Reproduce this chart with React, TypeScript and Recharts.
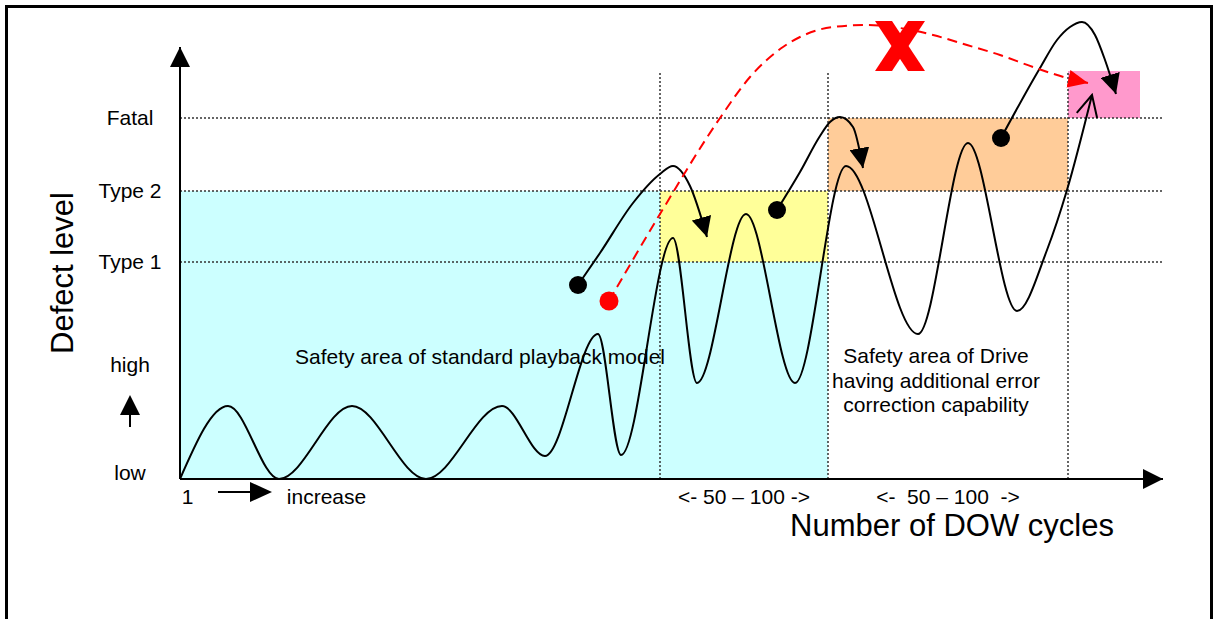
import React from 'react';
import {
  ComposedChart,
  Line,
  Scatter,
  XAxis,
  YAxis,
  ReferenceArea,
  ReferenceLine,
} from 'recharts';

const FONT = '"Liberation Sans", Arial, Helvetica, sans-serif';

// chart units: x = cycles (0 at the origin), y = defect level (0 = low)
const xMax = 983;
const yMax = 464;
const axisTop = 432;

// defect thresholds: Type 1, Type 2, Fatal
const levelValues = [217, 288, 361];
const zoneTop = 408;

// cycle band boundaries (standard model end, drive end, fatal band, fatal box end)
const bandEdges = [480, 648, 888, 960];

// wavy defect trace, peaks and troughs
const traceX = [0, 48, 99, 172, 246, 322, 365, 418, 441, 493, 517, 566, 615, 666, 738, 788, 837, 867, 887, 912];
const traceY = [0, 73, 0, 73, 0, 73, 23, 145, 24, 241, 96, 265, 96, 313, 145, 336, 168, 229, 289, 384];

// black jump arrows
const jump1X = [398, 420, 453, 480, 493, 510, 527];
const jump1Y = [194, 226, 276, 305, 313, 293, 242];
const jump2X = [597, 620, 640, 650, 660, 673, 683];
const jump2Y = [269, 307, 343, 357, 362, 352, 311];
const jump3X = [821, 860, 877, 890, 902, 915, 925, 936];
const jump3Y = [341, 411, 439, 452, 457, 444, 419, 385];

// red dashed jump (not allowed)
const redX = [429, 480, 540, 570, 603, 620, 653, 687, 720, 753, 787, 820, 853, 887, 908];
const redY = [178, 265, 361, 402, 432, 442, 452, 454, 451, 444, 434, 424, 412, 401, 396];

const blackDotX = [398, 597, 821];
const blackDotY = [194, 269, 341];
const redDotX = [429];
const redDotY = [178];
const crossX = [720];
const crossY = [433];

const yTickValues = [6, 68, 114, 217, 288, 361];
const yTickLabels = ['low', '↑', 'high', 'Type 1', 'Type 2', 'Fatal'];
const xTickValues = [7.5, 65, 146.5, 564, 768];
const xTickLabels = ['1', '→', 'increase', '<- 50 – 100 ->', '<-  50 – 100  ->'];

const noteX = [300, 756];
const noteY = [123, 99];
const noteLines = [
  ['Safety area of standard playback model'],
  ['Safety area of Drive', 'having additional error', 'correction capability'],
];

const pts = (xs: number[], ys: number[]) => xs.map((x, i) => ({ x, y: ys[i] }));

const trace = pts(traceX, traceY);
const jump1 = pts(jump1X, jump1Y);
const jump2 = pts(jump2X, jump2Y);
const jump3 = pts(jump3X, jump3Y);
const redJump = pts(redX, redY);
const blackDots = pts(blackDotX, blackDotY);
const redDots = pts(redDotX, redDotY);
const cross = pts(crossX, crossY);
const notes = noteX.map((x, i) => ({ x, y: noteY[i], lines: noteLines[i] }));
const xAxisLine = [{ x: 0, y: 0 }, { x: xMax, y: 0 }];
const yAxisLine = [{ x: 0, y: 0 }, { x: 0, y: axisTop }];

const textStyle = { fontFamily: FONT, fontSize: 21, fill: '#000', whiteSpace: 'pre' as const };

const YTick = (props: any) => {
  const { x, y, payload } = props;
  const label = yTickLabels[yTickValues.indexOf(payload.value)];
  const cx = x - 50;
  if (label === '↑') {
    return (
      <g>
        <polygon points={`${cx - 10},${y + 4} ${cx},${y - 16} ${cx + 10},${y + 4}`} fill="#000" />
        <line x1={cx} y1={y + 2} x2={cx} y2={y + 16} stroke="#000" strokeWidth={2} />
      </g>
    );
  }
  return (
    <text x={cx} y={y} dy="0.355em" textAnchor="middle" style={textStyle}>
      {label}
    </text>
  );
};

const XTick = (props: any) => {
  const { x, y, payload } = props;
  const label = xTickLabels[xTickValues.indexOf(payload.value)];
  if (label === '→') {
    const ay = y + 13;
    return (
      <g>
        <line x1={x - 27} y1={ay} x2={x + 7} y2={ay} stroke="#000" strokeWidth={2} />
        <polygon points={`${x + 5},${ay - 10} ${x + 27},${ay} ${x + 5},${ay + 10}`} fill="#000" />
      </g>
    );
  }
  return (
    <text x={x} y={y + 25} textAnchor="middle" style={textStyle}>
      {label}
    </text>
  );
};

const XLabel = (props: any) => {
  const vb = props.viewBox || { x: 180, y: 479 };
  return (
    <text x={vb.x + 772} y={vb.y + 57} textAnchor="middle" style={{ ...textStyle, fontSize: 31 }}>
      Number of DOW cycles
    </text>
  );
};

const YLabel = (props: any) => {
  const vb = props.viewBox || { x: 6, y: 15, height: 464 };
  const lx = vb.x + 67;
  const ly = vb.y + vb.height / 2 + 26;
  return (
    <text x={lx} y={ly} textAnchor="middle" transform={`rotate(-90, ${lx}, ${ly})`} style={{ ...textStyle, fontSize: 31 }}>
      Defect level
    </text>
  );
};

const NoteShape = (props: any) => {
  const { cx, cy, payload } = props;
  const lines: string[] = payload.lines;
  const lh = 24.5;
  const first = 7.5 - ((lines.length - 1) * lh) / 2;
  return (
    <text x={cx} y={cy + first} textAnchor="middle" style={textStyle}>
      {lines.map((l, i) => (
        <tspan key={i} x={cx} dy={i === 0 ? 0 : lh}>
          {l}
        </tspan>
      ))}
    </text>
  );
};

const CrossShape = (props: any) => {
  const { cx, cy } = props;
  const h = 25;
  const w = 17;
  return (
    <g fill="#FF0000">
      <polygon points={`${cx - h},${cy - h} ${cx - h + w},${cy - h} ${cx + h},${cy + h} ${cx + h - w},${cy + h}`} />
      <polygon points={`${cx + h - w},${cy - h} ${cx + h},${cy - h} ${cx - h + w},${cy + h} ${cx - h},${cy + h}`} />
    </g>
  );
};

const dotShape = (color: string, r: number) => (props: any) => (
  <circle cx={props.cx} cy={props.cy} r={r} fill={color} />
);

const dotted = { stroke: '#333', strokeWidth: 1.5, strokeDasharray: '2 2' };

export default function App() {
  return (
    <div style={{ position: 'absolute', left: 0, top: 0, width: 1214, height: 619, overflow: 'hidden', background: '#fff' }}>
      <div
        style={{
          position: 'absolute',
          left: 5,
          top: 5,
          width: 1208,
          height: 700,
          boxSizing: 'border-box',
          borderTop: '3px solid #000',
          borderLeft: '3px solid #000',
          borderRight: '3px solid #000',
        }}
      />
      <div style={{ position: 'absolute', left: 0, top: 0 }}>
        <ComposedChart width={1214} height={619} margin={{ top: 15, right: 51, bottom: 40, left: 6 }}>
          <defs>
            <marker id="headBlack" viewBox="0 0 20 20" refX="20" refY="10" markerWidth="20" markerHeight="20" markerUnits="userSpaceOnUse" orient="auto">
              <path d="M0,0 L20,10 L0,20 Z" fill="#000" />
            </marker>
            <marker id="headRed" viewBox="0 0 20 20" refX="20" refY="10" markerWidth="20" markerHeight="20" markerUnits="userSpaceOnUse" orient="auto">
              <path d="M0,1 L20,10 L0,19 Z" fill="#FF0000" />
            </marker>
            <marker id="headOpen" viewBox="0 0 24 24" refX="22" refY="12" markerWidth="24" markerHeight="24" markerUnits="userSpaceOnUse" orient="auto">
              <path d="M1,1.5 L22,12 L1,22.5" fill="none" stroke="#000" strokeWidth="2" />
            </marker>
          </defs>
          <XAxis
            type="number"
            dataKey="x"
            domain={[0, xMax]}
            ticks={xTickValues}
            interval={0}
            tick={XTick}
            axisLine={false}
            tickLine={false}
            tickSize={0}
            tickMargin={0}
            height={100}
            label={XLabel}
          />
          <YAxis
            type="number"
            dataKey="y"
            domain={[0, yMax]}
            ticks={yTickValues}
            interval={0}
            tick={YTick}
            axisLine={false}
            tickLine={false}
            tickSize={0}
            tickMargin={0}
            width={174}
            label={YLabel}
          />
          <ReferenceArea x1={0} x2={bandEdges[0]} y1={0} y2={levelValues[1]} fill="#CCFFFF" fillOpacity={1} stroke="none" />
          <ReferenceArea x1={bandEdges[0]} x2={bandEdges[1]} y1={0} y2={levelValues[0]} fill="#CCFFFF" fillOpacity={1} stroke="none" />
          <ReferenceArea x1={bandEdges[0]} x2={bandEdges[1]} y1={levelValues[0]} y2={levelValues[1]} fill="#FFFF99" fillOpacity={1} stroke="none" />
          <ReferenceArea x1={bandEdges[1]} x2={bandEdges[2]} y1={levelValues[1]} y2={levelValues[2]} fill="#FFCC99" fillOpacity={1} stroke="none" />
          <ReferenceArea x1={bandEdges[2]} x2={bandEdges[3]} y1={levelValues[2]} y2={zoneTop} fill="#FF99CC" fillOpacity={1} stroke="none" />
          {levelValues.map((v) => (
            <ReferenceLine key={`h${v}`} y={v} {...dotted} />
          ))}
          {bandEdges.slice(0, 3).map((v) => (
            <ReferenceLine key={`v${v}`} segment={[{ x: v, y: 0 }, { x: v, y: zoneTop }]} {...dotted} />
          ))}
          <Scatter data={notes} shape={NoteShape} isAnimationActive={false} />
          <Line data={xAxisLine} dataKey="y" type="linear" stroke="#000" strokeWidth={2} dot={false} activeDot={false} markerEnd="url(#headBlack)" isAnimationActive={false} />
          <Line data={yAxisLine} dataKey="y" type="linear" stroke="#000" strokeWidth={2} dot={false} activeDot={false} markerEnd="url(#headBlack)" isAnimationActive={false} />
          <Line data={trace} dataKey="y" type="monotone" stroke="#000" strokeWidth={2} dot={false} activeDot={false} markerEnd="url(#headOpen)" isAnimationActive={false} />
          <Line data={jump1} dataKey="y" type="monotone" stroke="#000" strokeWidth={2} dot={false} activeDot={false} markerEnd="url(#headBlack)" isAnimationActive={false} />
          <Line data={jump2} dataKey="y" type="monotone" stroke="#000" strokeWidth={2} dot={false} activeDot={false} markerEnd="url(#headBlack)" isAnimationActive={false} />
          <Line data={jump3} dataKey="y" type="monotone" stroke="#000" strokeWidth={2} dot={false} activeDot={false} markerEnd="url(#headBlack)" isAnimationActive={false} />
          <Line data={redJump} dataKey="y" type="monotone" stroke="#FF0000" strokeWidth={2} strokeDasharray="10 6" dot={false} activeDot={false} markerEnd="url(#headRed)" isAnimationActive={false} />
          <Scatter data={blackDots} shape={dotShape('#000', 9)} isAnimationActive={false} />
          <Scatter data={redDots} shape={dotShape('#FF0000', 9.5)} isAnimationActive={false} />
          <Scatter data={cross} shape={CrossShape} isAnimationActive={false} />
        </ComposedChart>
      </div>
    </div>
  );
}
